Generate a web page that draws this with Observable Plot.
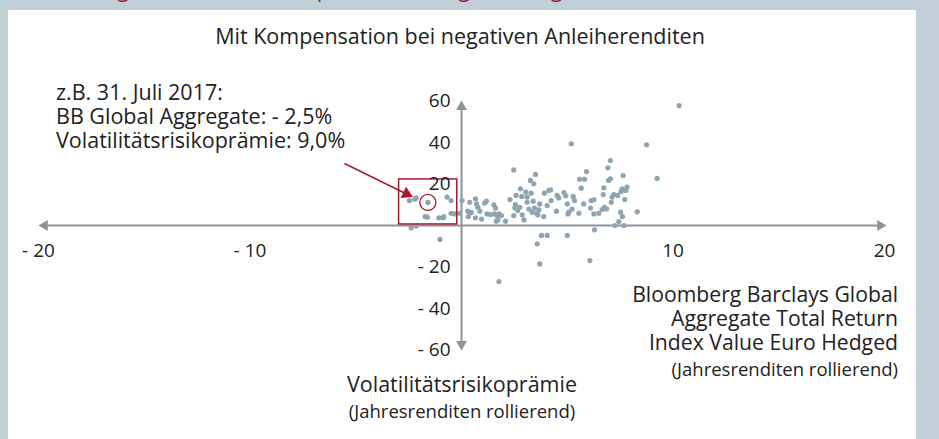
<!DOCTYPE html>
<html><head><meta charset="utf-8">
<script src="https://cdn.jsdelivr.net/npm/d3@7"></script>
<script src="https://cdn.jsdelivr.net/npm/@observablehq/plot@0.6"></script>
<style>
html,body{margin:0;padding:0;width:939px;height:439px;overflow:hidden;background:#c1cfd9;font-family:"Open Sans",sans-serif;color:#222}
#panel{position:absolute;left:8px;top:10px;width:908px;height:429px;background:#fff}
#chart{position:absolute;left:0;top:0}
.t{position:absolute;white-space:nowrap;line-height:1}
.blk{position:absolute;white-space:pre}
</style></head><body>
<div id="panel"></div>
<div id="chart"></div>
<script>
// ---- data ----
const xTicks = [-20, -10, 10, 20];
const xTickLabels = ["- 20", "- 10", "10", "20"];
const yTicks = [60, 40, 20, -20, -40, -60];
const yTickLabels = ["60", "40", "20", "- 20", "- 40", "- 60"];

// Bloomberg Barclays Global Aggregate (x) vs. Volatilitätsrisikoprämie (y), rolling annual returns in %
const bbReturn = [
 -2.46,-2.21,-2.14,-1.59,-1.72,-1.61,-1.07,-0.87,-0.84,-0.68,-0.49,-0.49,-0.33,-0.09,-2.38,-2.14,-1.02,
 0.03,0.30,0.39,0.46,0.39,0.66,0.71,0.32,0.66,0.95,0.87,0.77,1.09,1.18,1.21,1.37,1.53,1.61,1.56,1.69,1.77,1.89,1.72,1.65,2.08,
 2.29,2.47,2.52,2.55,2.58,2.66,2.76,2.79,2.85,2.87,2.95,3.04,3.10,3.10,3.18,3.26,3.29,3.34,3.39,3.42,3.45,3.50,3.55,3.61,3.66,3.70,3.89,3.92,4.05,4.13,4.21,4.24,2.47,
 4.49,4.52,4.60,4.84,4.93,5.00,5.03,5.07,5.19,5.23,5.28,5.34,5.55,5.58,5.66,5.78,5.82,5.91,6.10,6.13,6.26,6.26,6.49,6.65,6.70,6.73,6.76,6.86,6.92,6.95,7.04,7.04,7.08,7.12,7.20,7.25,7.39,7.44,7.52,7.55,7.60,7.61,7.64,7.68,7.72,7.77,7.83,
 8.31,8.75,9.25,10.29,
 3.58,3.70,3.78,4.05,5.00,6.07,6.29,1.77
];
const vrp = [
 12.0,12.7,13.3,11.1,4.3,4.0,3.7,3.7,4.3,13.7,12.0,5.9,5.6,5.9,-1.1,-0.2,-6.7,
 12.0,6.9,5.9,6.3,11.2,12.9,10.4,4.3,3.7,3.1,6.9,8.8,10.8,11.7,5.6,5.3,10.0,8.4,5.6,4.8,5.6,4.8,2.7,2.1,2.1,
 12.5,4.8,8.5,10.1,14.5,7.2,8.8,17.7,14.0,5.1,2.7,16.1,13.7,11.2,7.9,21.7,15.6,6.4,11.7,20.1,8.4,24.6,5.9,5.1,7.6,10.4,4.3,15.6,9.6,16.9,17.2,12.0,26.8,
 6.9,14.5,13.3,15.9,14.3,10.4,5.6,6.4,39.4,7.9,14.0,12.0,5.9,22.3,18.0,10.4,22.3,26.0,8.4,12.0,5.6,12.4,5.9,7.7,14.9,18.2,8.8,8.0,27.8,21.7,31.3,22.5,11.2,13.7,14.9,0.0,14.5,1.9,6.4,16.4,17.7,4.3,24.1,0.0,12.5,16.9,18.5,
 6.6,38.9,22.7,57.8,
 -8.8,-18.5,-4.8,-4.8,-4.8,-16.9,-2.1,-27.0
];

// highlighted observation (31. Juli 2017) and annotation box
const highlightX = [-1.59], highlightY = [11.1];
const boxX = [-2.95, -0.2], boxY = [0.5, 22.2];
const calloutFrom = [-5.53, 29.9], calloutTo = [-2.6, 15.2];

const titleText = "Mit Kompensation bei negativen Anleiherenditen";
const noteLines = ["z.B. 31. Juli 2017:", "BB Global Aggregate: - 2,5%", "Volatilitätsrisikoprämie: 9,0%"];
const xLabelLines = ["Bloomberg Barclays Global", "Aggregate Total Return", "Index Value Euro Hedged"];
const yLabelLines = ["Volatilitätsrisikoprämie"];
const subLabel = "(Jahresrenditen rollierend)";
const redHeading = "Abbildung 5: Volatilitätsrisikoprämie im Vergleich zu globalen Anleihen";

// ---- chart ----
const points = bbReturn.map((x, i) => ({x, y: vrp[i]}));
const axisColor = "#8c949b";
const dotColor = "#8ea5b1";
const red = "#a5192f";
const ink = "#222";

const arrowHeads = [
  {x: -19.71, y: 0, rot: -90},
  {x: 19.80, y: 0, rot: 90},
  {x: 0, y: 57.2, rot: 0},
  {x: 0, y: -57.2, rot: 180}
];
const ang = Math.atan2(-(calloutTo[1]-calloutFrom[1])*2.075, (calloutTo[0]-calloutFrom[0])*21.15) * 180 / Math.PI + 90;

const chart = Plot.plot({
  width: 939, height: 439, margin: 0,
  x: {domain: [-20, 20], range: [38, 884], axis: null},
  y: {domain: [-60, 60], range: [349.5, 100.5], axis: null},
  style: {background: "transparent", fontFamily: "'Open Sans', sans-serif", overflow: "visible"},
  marks: [
    Plot.ruleY([0], {x1: -19.7, x2: 19.8, stroke: axisColor, strokeWidth: 2}),
    Plot.ruleX([0], {y1: -57.2, y2: 57.2, stroke: axisColor, strokeWidth: 2}),
    Plot.dot(arrowHeads, {x: "x", y: "y", rotate: "rot", symbol: "triangle", r: 4, fill: axisColor, stroke: "none"}),
    Plot.dot(points, {x: "x", y: "y", r: 2.6, fill: dotColor, stroke: "none"}),
    Plot.rect([{x1: boxX[0], x2: boxX[1], y1: boxY[0], y2: boxY[1]}], {x1: "x1", x2: "x2", y1: "y1", y2: "y2", fill: "none", stroke: red, strokeWidth: 1.5}),
    Plot.dot(highlightX.map((x, i) => ({x, y: highlightY[i]})), {x: "x", y: "y", r: 8, fill: "none", stroke: red, strokeWidth: 1.3}),
    Plot.link([{x1: calloutFrom[0], y1: calloutFrom[1], x2: calloutTo[0], y2: calloutTo[1]}], {x1: "x1", y1: "y1", x2: "x2", y2: "y2", stroke: red, strokeWidth: 1.5}),
    Plot.dot([{x: calloutTo[0], y: calloutTo[1]}], {x: "x", y: "y", symbol: "triangle", r: 4.6, rotate: ang, fill: red, stroke: "none"}),
    Plot.text(xTicks.map((v, i) => ({v, l: xTickLabels[i]})), {x: "v", y: 0, text: "l", dy: 25, fontSize: 19, fill: ink}),
    Plot.text(yTicks.map((v, i) => ({v, l: yTickLabels[i]})), {x: 0, y: "v", text: "l", dx: -11, textAnchor: "end", fontSize: 19, fill: ink})
  ]
});
document.getElementById("chart").appendChild(chart);

// ---- text blocks ----
function pos(d, x, anchor) {
  if (anchor === "middle") { d.style.left = x + "px"; d.style.transform = "translateX(-50%)"; d.style.textAlign = "center"; }
  else if (anchor === "end") { d.style.right = (939 - x) + "px"; d.style.textAlign = "right"; }
  else { d.style.left = x + "px"; d.style.textAlign = "left"; }
}
function place(text, x, baseline, fs, anchor, color) {
  const d = document.createElement("div");
  d.className = "t";
  d.textContent = text;
  d.style.fontSize = fs + "px";
  d.style.top = (baseline - 0.888 * fs) + "px";
  if (color) d.style.color = color;
  pos(d, x, anchor);
  document.body.appendChild(d);
}
// multi-line text (one text node) with line spacing lh
function block(lines, x, firstBaseline, fs, lh, anchor) {
  const d = document.createElement("div");
  d.className = "blk";
  d.textContent = lines.join("\n");
  d.style.fontSize = fs + "px";
  d.style.lineHeight = lh + "px";
  d.style.top = (firstBaseline - ((lh - 1.362 * fs) / 2 + 1.069 * fs)) + "px";
  pos(d, x, anchor);
  document.body.appendChild(d);
}
place(redHeading, 27, -3, 21.5, "start", red);
place(titleText, 460, 44, 21.5, "middle");
block(noteLines, 56, 100, 21.5, 24, "start");
block(xLabelLines, 898, 302, 21.2, 24, "end");
place(subLabel, 898, 376, 18.5, "end");
place(yLabelLines[0], 462, 392, 21.5, "middle");
place(subLabel, 462, 418, 18.5, "middle");
</script>
</body></html>
